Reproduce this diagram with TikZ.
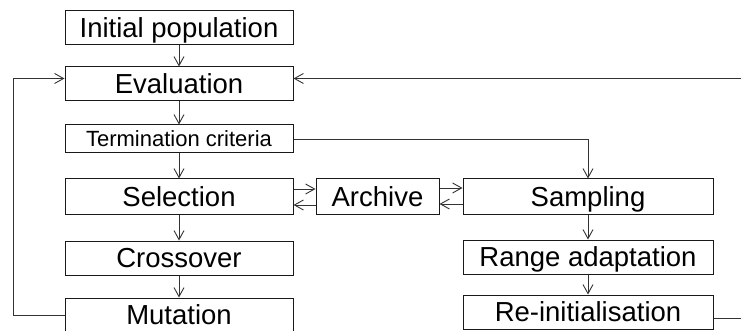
\documentclass[tikz,border=0pt]{standalone}
\usepackage{fontspec}
\setmainfont{Liberation Sans}
\usetikzlibrary{arrows.meta}
\begin{document}
\begin{tikzpicture}[x=1pt,y=-1pt,
  box/.style={draw=black!90,line width=1pt,inner sep=0pt,minimum height=34pt,
    font=\fontsize{27.5}{30}\selectfont,text height=19.8pt,text depth=0pt},
  smallbox/.style={box,minimum height=28pt,font=\fontsize{22}{24}\selectfont,text height=15.8pt},
  conn/.style={draw=black!80,line width=0.9pt},
  arr/.style={conn,-{Straight Barb[length=9pt,width=10pt]}}]
\useasboundingbox (0,0) rectangle (741,331);
\clip (0,0) rectangle (741,331);
\node[box,minimum width=228pt] (init) at (179,28) {Initial population};
\node[box,minimum width=228pt] (eval) at (179,84) {Evaluation};
\node[smallbox,minimum width=228pt] (term) at (179,139) {Termination criteria};
\node[box,minimum width=228pt,minimum height=35pt] (sel) at (179,196.5) {Selection};
\node[box,minimum width=228pt] (cross) at (179,258) {Crossover};
\node[box,minimum width=228pt] (mut) at (179,315) {Mutation};
\node[box,minimum width=123pt,minimum height=35pt] (arch) at (377.5,196.5) {Archive};
\node[box,minimum width=250pt,minimum height=35pt] (samp) at (588,196.5) {Sampling};
\node[box,minimum width=250pt] (range) at (588,257) {Range adaptation};
\node[box,minimum width=250pt] (reinit) at (588,312) {Re-initialisation};
\coordinate (lloop) at (13,0);
\coordinate (rloop) at (760,0);
\draw[arr] (init) -- (eval);
\draw[arr] (eval) -- (term);
\draw[arr] (term) -- (sel);
\draw[arr] (sel) -- (cross);
\draw[arr] (cross) -- (mut);
\draw[arr] (samp) -- (range);
\draw[arr] (range) -- (reinit);
\draw[arr] ([yshift=7.5pt]sel.east) -- ([yshift=7.5pt]arch.west);
\draw[arr] ([yshift=-8.5pt]arch.west) -- ([yshift=-8.5pt]sel.east);
\draw[arr] ([yshift=8.5pt]arch.east) -- ([yshift=8.5pt]samp.west);
\draw[arr] ([yshift=-7.5pt]samp.west) -- ([yshift=-7.5pt]arch.east);
\draw[arr] (term.east) -| (samp.north);
\draw[arr] (mut.west) -- (mut.west -| lloop) |- ([yshift=5.5pt]eval.west);
\draw[arr] ([yshift=-6pt]reinit.east) -- ([yshift=-6pt]reinit.east -| rloop) |- ([yshift=5.5pt]eval.east);
\end{tikzpicture}
\end{document}
